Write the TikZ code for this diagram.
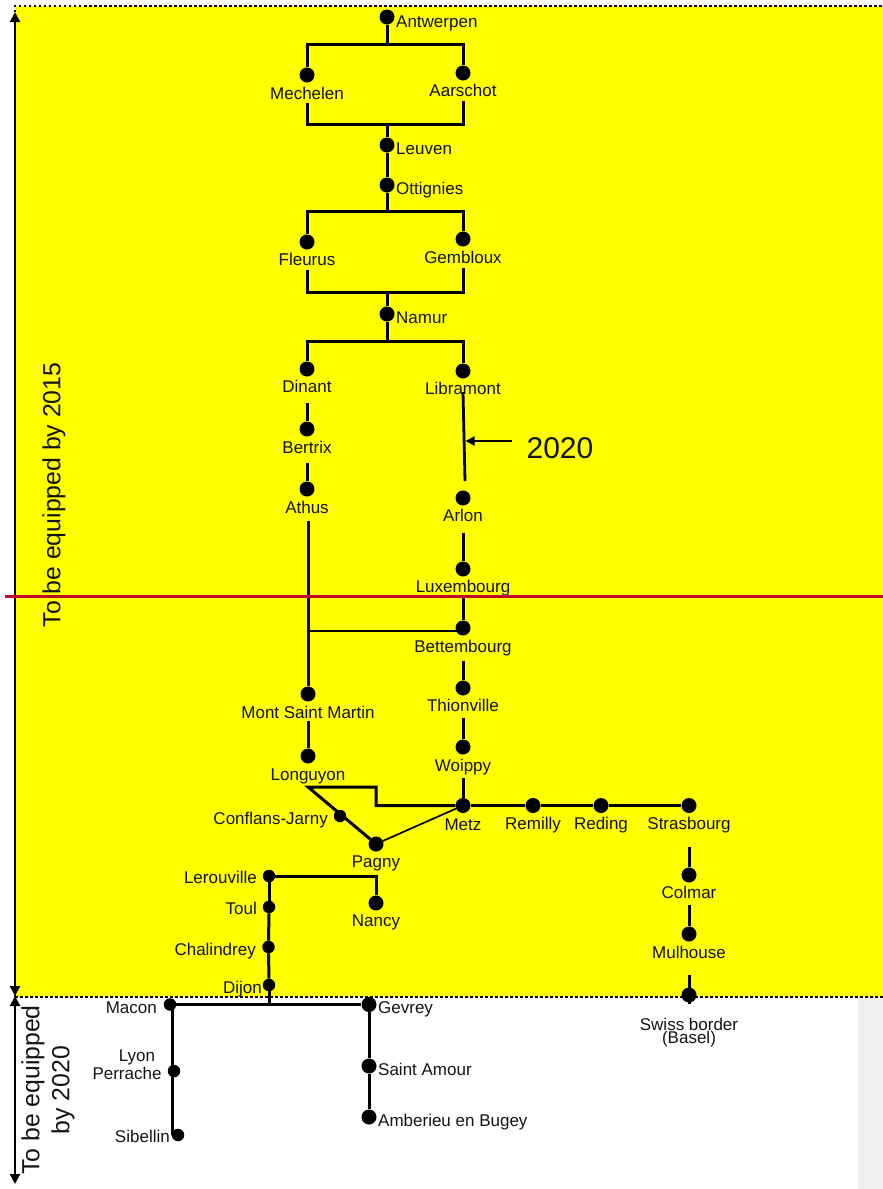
\documentclass[tikz,border=0pt]{standalone}
\usepackage{fontspec}
\setmainfont{Liberation Sans}
\usetikzlibrary{arrows.meta}
\definecolor{hiyellow}{HTML}{FFFF00}
\definecolor{redline}{HTML}{C00A2A}
\definecolor{strip}{HTML}{F0F0F0}
\tikzset{
  x=1pt,y=-1pt,
  stn/.style={circle,fill=black,draw=none,inner sep=0pt,minimum size=15pt},
  stnsmall/.style={stn,minimum size=12.5pt},
  lbl/.style={font=\fontsize{17pt}{17pt}\selectfont,text=black!92,inner sep=0pt,align=center,yshift=-0.5pt},
  track/.style={line width=3pt,line cap=butt,line join=miter},
  thintrack/.style={line width=1.7pt},
  scalearrow/.style={line width=2pt,{Triangle[length=10pt,width=10pt]}-{Triangle[length=10pt,width=10pt]}},
  border/.style={line width=2.8pt,dash pattern=on 2.5pt off 2.5pt},
  bigtext/.style={font=\fontsize{24.8pt}{30pt}\selectfont,text=black!92,inner sep=0pt,align=center,rotate=90},
}
\newcommand{\stn}[4][stn]{\node[#1] (#2) at (#3) {};}
\begin{document}
\begin{tikzpicture}
\useasboundingbox (0,0) rectangle (883,1189);
\fill[hiyellow] (15,6) rectangle (883,997);
\fill[strip] (858,997) rectangle (883,1189);
\coordinate (bl) at (15,997); \coordinate (br) at (883,997);
\coordinate (tl) at (15,6); \coordinate (tr) at (883,6);
\draw[border] (bl) -- (tl) -- (tr);
\draw[border] (bl) -- (br);
% scale arrows
\coordinate (a1) at (15,12); \coordinate (a2) at (15,996);
\coordinate (a3) at (15,996); \coordinate (a4) at (15,1184);
\draw[scalearrow] (a1) -- (a2);
\draw[scalearrow] (a3) -- (a4);
% stations
\stn{antw}{387,17}{}
\stn{mech}{307,75}{}
\stn{aars}{463,73}{}
\stn{leuv}{387,145}{}
\stn{otti}{387,185}{}
\stn{fleu}{307,242}{}
\stn{gemb}{463,239}{}
\stn{namu}{387,314}{}
\stn{dina}{307,369}{}
\stn{libr}{463,371}{}
\stn{bert}{307,429}{}
\stn{athu}{307,489}{}
\stn{arlo}{463,498}{}
\stn{luxe}{463,569}{}
\stn{bett}{463,628}{}
\stn{thio}{463,688}{}
\stn{woip}{463,747}{}
\stn{metz}{463,805.5}{}
\stn{mont}{308,694}{}
\stn{long}{308,756}{}
\stn[stnsmall]{conf}{340,816}{}
\stn{pagn}{376,844}{}
\stn{remi}{533,805.5}{}
\stn{redi}{601,805.5}{}
\stn{stra}{689,805.5}{}
\stn{colm}{689,875}{}
\stn{mulh}{689,934}{}
\stn{swis}{689,995}{}
\stn[stnsmall]{lero}{269,876}{}
\stn[stnsmall]{toul}{269,907}{}
\stn[stnsmall]{chal}{268.5,947}{}
\stn[stnsmall]{dijo}{269,985}{}
\stn{nanc}{376,903}{}
\stn[stnsmall]{maco}{170,1004.5}{}
\stn{gevr}{369,1004.5}{}
\stn[stnsmall]{lyon}{174,1071}{}
\stn[stnsmall]{sibe}{178,1135}{}
\stn{sain}{369,1066}{}
\stn{ambe}{369,1117}{}
% labels
\node[lbl,anchor=west] (lantw) at (396,23) {Antwerpen};
\node[lbl] (lmech) at (307,93) {Mechelen};
\node[lbl] (laars) at (463,90) {Aarschot};
\node[lbl,anchor=west] (lleuv) at (396,148) {Leuven};
\node[lbl,anchor=west] (lotti) at (396,190) {Ottignies};
\node[lbl] (lfleu) at (307,259) {Fleurus};
\node[lbl] (lgemb) at (463,257) {Gembloux};
\node[lbl,anchor=west] (lnamu) at (396,317) {Namur};
\node[lbl] (ldina) at (307,386) {Dinant};
\node[lbl] (llibr) at (463,388) {Libramont};
\node[lbl] (lbert) at (307,447) {Bertrix};
\node[lbl] (lathu) at (307,507) {Athus};
\node[lbl] (larlo) at (463,515) {Arlon};
\node[lbl] (lluxe) at (463,588) {Luxembourg};
\node[lbl] (lbett) at (463,648) {Bettembourg};
\node[lbl] (lthio) at (463,705) {Thionville};
\node[lbl] (lwoip) at (463,767) {Woippy};
\node[lbl] (lmetz) at (463,824) {Metz};
\node[lbl] (lmont) at (308,712) {Mont Saint Martin};
\node[lbl] (llong) at (308,776) {Longuyon};
\node[lbl,anchor=east] (lconf) at (328,820) {Conflans-Jarny};
\node[lbl] (lpagn) at (376,863) {Pagny};
\node[lbl] (lremi) at (533,825) {Remilly};
\node[lbl] (lredi) at (601,825) {Reding};
\node[lbl] (lstra) at (689,825) {Strasbourg};
\node[lbl] (lcolm) at (689,892) {Colmar};
\node[lbl] (lmulh) at (689,952) {Mulhouse};
\node[lbl] (lswis) at (689,1024) {Swiss border};
\node[lbl] (lbase) at (689,1039) {(Basel)};
\node[lbl,anchor=east] (llero) at (257,877) {Lerouville};
\node[lbl,anchor=east] (ltoul) at (257,908) {Toul};
\node[lbl,anchor=east] (lchal) at (256,951) {Chalindrey};
\node[lbl,anchor=east] (ldijo) at (262,989) {Dijon};
\node[lbl] (lnanc) at (376,922) {Nancy};
\node[lbl,anchor=east] (lmaco) at (157,1007) {Macon};
\node[lbl] (llyo1) at (137,1057) {Lyon};
\node[lbl] (llyo2) at (127,1073) {Perrache};
\node[lbl,anchor=east] (lsibe) at (170,1136) {Sibellin};
\node[lbl,anchor=west] (lgevr) at (378,1009) {Gevrey};
\node[lbl,anchor=west] (lsain) at (378,1069) {Saint Amour};
\node[lbl,anchor=west] (lambe) at (378,1122) {Amberieu en Bugey};
\node[bigtext] (t2015) at (54,495) {To be equipped by 2015};
\node[bigtext] (t2020) at (48,1090) {To be equipped\\by 2020};
\node[font=\fontsize{30pt}{32pt}\selectfont,text=black!92,inner sep=0pt] (y2020) at (560,448) {2020};
% track junction coordinates
\coordinate (j1) at (387,44); \coordinate (j1l) at (307,44); \coordinate (j1r) at (463,44);
\coordinate (j2) at (387,124); \coordinate (j2l) at (307,124); \coordinate (j2r) at (463,124);
\coordinate (j2la) at (307,103); \coordinate (j2ra) at (463,101);
\coordinate (j3) at (387,211); \coordinate (j3l) at (307,211); \coordinate (j3r) at (463,211);
\coordinate (j4) at (387,292); \coordinate (j4l) at (307,292); \coordinate (j4r) at (463,292);
\coordinate (j4la) at (307,270); \coordinate (j4ra) at (463,268);
\coordinate (j5) at (387,341); \coordinate (j5l) at (307,341); \coordinate (j5r) at (463,341);
\draw[track] (antw) -- (j1);
\draw[track] (mech) -- (j1l) -- (j1r) -- (aars);
\draw[track] (j2la) -- (j2l) -- (j2r) -- (j2ra);
\draw[track] (j2) -- (leuv);
\draw[track] (leuv) -- (otti);
\draw[track] (otti) -- (j3);
\draw[track] (fleu) -- (j3l) -- (j3r) -- (gemb);
\draw[track] (j4la) -- (j4l) -- (j4r) -- (j4ra);
\draw[track] (j4) -- (namu);
\draw[track] (namu) -- (j5);
\draw[track] (dina) -- (j5l) -- (j5r) -- (libr);
\coordinate (d1) at (307,403); \draw[track] (d1) -- (bert);
\coordinate (d2) at (307,463); \draw[track] (d2) -- (athu);
\coordinate (d3) at (308,521); \draw[track] (d3) -- (mont);
\coordinate (d4) at (308,721); \draw[track] (d4) -- (long);
\coordinate (e1) at (463,392); \coordinate (e1b) at (465,481); \draw[line width=2.8pt] (e1) -- (e1b);
\coordinate (e2) at (463,533); \draw[track] (e2) -- (luxe);
\coordinate (e3) at (463,597); \draw[track] (e3) -- (bett);
\coordinate (e3b) at (308,631); \coordinate (e3c) at (463,631); \draw[line width=2.8pt] (e3b) -- (e3c);
\coordinate (e4) at (463,661); \draw[track] (e4) -- (thio);
\coordinate (e5) at (463,718); \draw[track] (e5) -- (woip);
\coordinate (e6) at (463,778); \draw[track] (e6) -- (metz);
\coordinate (f1) at (308,787); \coordinate (f2) at (376,787); \coordinate (f3) at (376,805.5);
\draw[track] (pagn) -- (f1) -- (f2) -- (f3) -- (metz);
\draw[track] (metz) -- (remi);
\draw[track] (remi) -- (redi);
\draw[track] (redi) -- (stra);
\draw[thintrack] (pagn) -- (metz);
\coordinate (g1) at (689,847); \draw[track] (g1) -- (colm);
\coordinate (g2) at (689,905); \draw[track] (g2) -- (mulh);
\coordinate (g3) at (689,975); \coordinate (g4) at (689,1004); \draw[track] (g3) -- (g4);
\coordinate (h1) at (376,876);
\draw[track] (nanc) -- (h1) -- (lero);
\draw[track] (lero) -- (toul);
\draw[track] (toul) -- (chal);
\draw[track] (chal) -- (dijo);
\coordinate (h2) at (269,1005); \draw[track] (dijo) -- (h2);
\draw[track] (maco) -- (gevr);
\coordinate (m0) at (172,1004); \coordinate (m1) at (172,1135); \draw[track] (m0) -- (m1) -- (sibe);
\draw[track] (gevr) -- (sain);
\draw[track] (sain) -- (ambe);
% red line and 2020 pointer
\coordinate (r1) at (5,596); \coordinate (r2) at (883,596);
\draw[redline,line width=3pt] (r1) -- (r2);
\coordinate (p1) at (512,441); \coordinate (p2) at (465.5,441);
\draw[line width=1.8pt,-{Triangle[length=9pt,width=9pt]}] (p1) -- (p2);
\end{tikzpicture}
\end{document}
